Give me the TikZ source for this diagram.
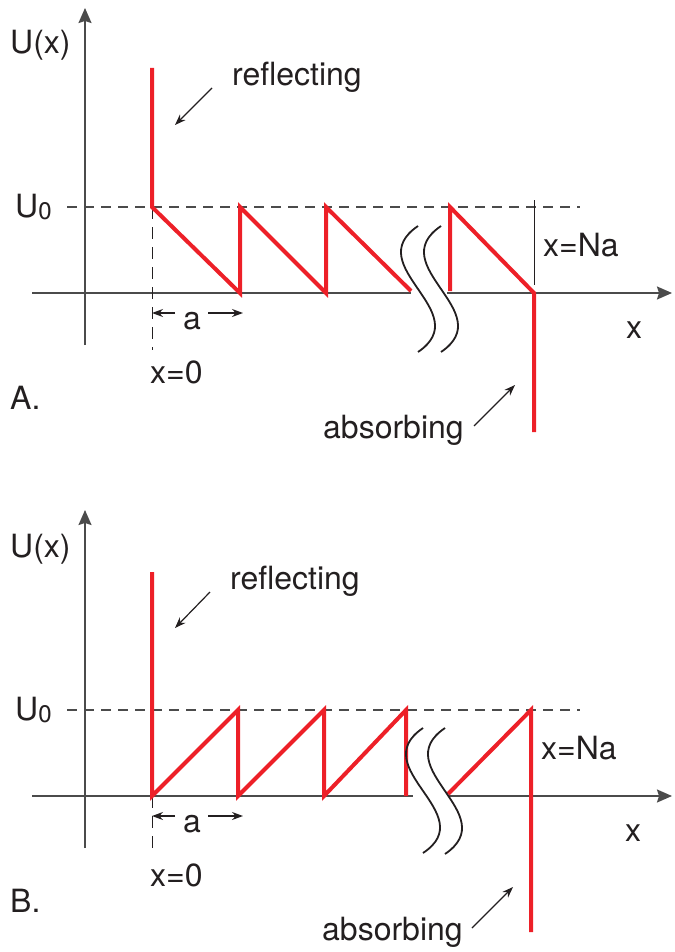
\documentclass[tikz,border=0pt]{standalone}
\usepackage{fontspec}
\setmainfont{TeX Gyre Heros}
\usepackage{xcolor}
\usepackage{tikz}
\usetikzlibrary{arrows.meta,calc}
\definecolor{potred}{RGB}{237,32,40}
\definecolor{axgray}{RGB}{75,75,75}
\definecolor{txtgray}{RGB}{35,31,32}
\newcommand{\Uzero}{U\raisebox{-2pt}{\fontsize{24}{24}\selectfont 0}}

\begin{document}
\begin{tikzpicture}[x=1pt,y=-1pt,
 lbl/.style={anchor=base west,inner sep=0pt,font=\fontsize{32}{37}\selectfont,text=txtgray},
 axis/.style={draw=axgray,line width=1.6pt},
 axarrow/.style={axis,-{Stealth[length=15pt,width=13pt,inset=2pt]}},
 level/.style={draw=axgray,line width=1.2pt,dash pattern=on 10pt off 7pt},
 zeroline/.style={draw=txtgray,line width=1pt,dash pattern=on 12pt off 8pt},
 thin/.style={draw=txtgray,line width=1pt},
 pot/.style={draw=potred,line width=4pt,line join=miter},
 ptr/.style={draw=txtgray,line width=1.2pt,-{Stealth[length=11pt,width=8pt]}},
 brk/.style={draw=txtgray,line width=1.8pt}]
\useasboundingbox (0,0) rectangle (674,952);

% ---------- A.
\draw[axarrow] (85,345) -- (85,8);
\draw[axis] (32,293) -- (411,293);
\draw[axarrow] (447,293) -- (672,293);
\draw[level] (67,207) -- (580,207);
\draw[zeroline] (152,207) -- (152,350);
\draw[thin] (534,200) -- (534,285);
\draw[pot] (152,68) -- (152,207) -- (240,293) -- (240,207) -- (326,293) -- (326,207) -- (411,291);
\draw[pot] (450,291) -- (450,207) -- (534,293) -- (534,432);
\draw[brk] (418,226) .. controls (359,266) and (477,312) .. (418,352);
\draw[brk] (441,226) .. controls (382,266) and (500,312) .. (441,352);

\node[lbl] (UxA) at (10,54) {U(x)};
\node[lbl] (U0A) at (15,217) {\Uzero};
\node[lbl] (reflA) at (232,86) {reflecting};
\node[lbl] (NaA) at (543,256) {x=Na};
\node[lbl] (xA) at (626,338) {x};
\node[lbl] (aA) at (183,329) {a};
\node[lbl] (zeroA) at (150,383) {x=0};
\node[lbl] (tagA) at (10,409) {A.};
\node[lbl] (absA) at (323,438) {absorbing};

\coordinate (aLA) at (152,313);
\coordinate (aRA) at (243,313);
\draw[ptr] (aA.west |- aLA) ++(-8,0) -- (aLA);
\draw[ptr] (aA.east |- aRA) ++(7,0) -- (aRA);
\coordinate (reflTipA) at (175,125);
\coordinate (reflTailA) at (212,88);
\draw[ptr] (reflTailA) -- (reflTipA);
\coordinate (absTipA) at (515,385);
\coordinate (absTailA) at (474,426);
\draw[ptr] (absTailA) -- (absTipA);

% ---------- B.
\draw[axarrow] (85,848) -- (85,510);
\draw[axis] (32,796) -- (413,796);
\draw[axarrow] (448,796) -- (672,796);
\draw[level] (67,710) -- (580,710);
\draw[zeroline] (152,796) -- (152,850);
\draw[pot] (152,572) -- (152,796) -- (238,710) -- (238,796) -- (324,710) -- (324,796) -- (406,710) -- (406,796);
\draw[pot] (448,794) -- (531,710) -- (531,932);
\draw[brk] (423,728) .. controls (364,768) and (482,814) .. (423,853);
\draw[brk] (445,728) .. controls (386,768) and (504,814) .. (445,854);

\node[lbl] (UxB) at (10,557) {U(x)};
\node[lbl] (U0B) at (15,720) {\Uzero};
\node[lbl] (reflB) at (230,589) {reflecting};
\node[lbl] (NaB) at (541,759) {x=Na};
\node[lbl] (xB) at (625,841) {x};
\node[lbl] (aB) at (183,832) {a};
\node[lbl] (zeroB) at (150,886) {x=0};
\node[lbl] (tagB) at (10,912) {B.};
\node[lbl] (absB) at (322,940) {absorbing};

\coordinate (aLB) at (152,816);
\coordinate (aRB) at (243,816);
\draw[ptr] (aB.west |- aLB) ++(-8,0) -- (aLB);
\draw[ptr] (aB.east |- aRB) ++(7,0) -- (aRB);
\coordinate (reflTipB) at (175,628);
\coordinate (reflTailB) at (210,592);
\draw[ptr] (reflTailB) -- (reflTipB);
\coordinate (absTipB) at (513,887);
\coordinate (absTailB) at (472,928);
\draw[ptr] (absTailB) -- (absTipB);
\end{tikzpicture}
\end{document}
